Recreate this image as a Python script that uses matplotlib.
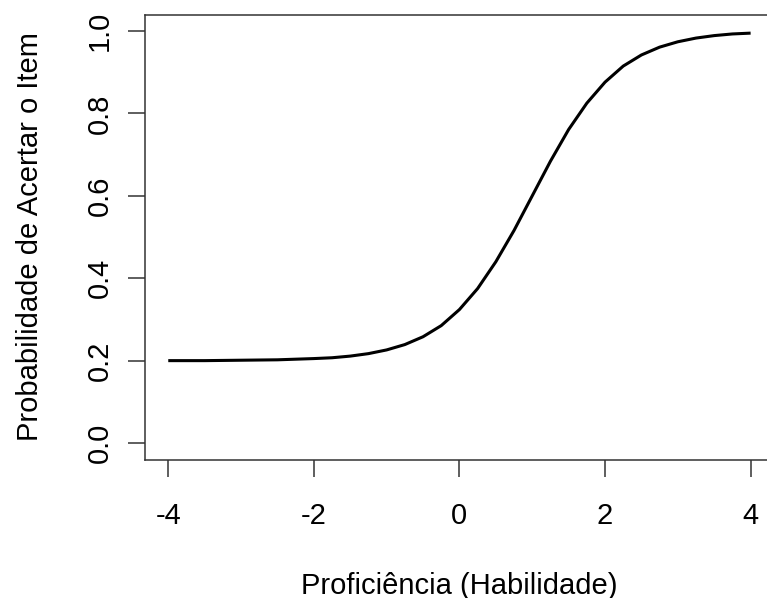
import matplotlib
matplotlib.use("Agg")
import matplotlib.pyplot as plt

# valores
theta = [-4, -3.5, -3, -2.5, -2, -1.75, -1.5, -1.25, -1, -0.75, -0.5, -0.25,
         0, 0.25, 0.5, 0.75, 1, 1.25, 1.5, 1.75, 2, 2.25, 2.5, 2.75,
         3, 3.25, 3.5, 3.75, 4]
prob = [0.200, 0.200, 0.201, 0.202, 0.205, 0.207, 0.211, 0.217, 0.226, 0.239, 0.258, 0.285,
        0.324, 0.375, 0.440, 0.516, 0.600, 0.684, 0.761, 0.825, 0.876, 0.915, 0.942, 0.961,
        0.974, 0.983, 0.989, 0.993, 0.995]
xticks = [-4, -2, 0, 2, 4]
yticks = [0.0, 0.2, 0.4, 0.6, 0.8, 1.0]

plt.rcParams['font.family'] = ['Liberation Sans', 'DejaVu Sans']
fs = 21

fig = plt.figure(figsize=(7.67, 5.98), dpi=100)
ax = fig.add_axes([0.189, 0.2316, 0.820, 0.744])
ax.plot(theta, prob, color='black', lw=2.2, solid_capstyle='butt')

ax.set_xlim(-4.32, 4.32)
ax.set_ylim(-0.04, 1.04)
ax.set_xticks(xticks)
ax.set_xticklabels([str(t) for t in xticks])
ax.set_yticks(yticks)
ax.set_yticklabels([f"{t:.1f}" for t in yticks], rotation=90, va='center')
ax.tick_params(length=12.5, width=1.1, labelsize=fs, color='#333333')
ax.tick_params(axis='x', pad=18)
ax.tick_params(axis='y', pad=10)
for s in ax.spines.values():
    s.set_linewidth(1.1)
    s.set_color('#333333')

ax.set_xlabel('Proficiência (Habilidade)', fontsize=fs, labelpad=30)
ax.set_ylabel('Probabilidade de Acertar o Item', fontsize=fs, labelpad=30)

fig.savefig('out.png', dpi=100)
